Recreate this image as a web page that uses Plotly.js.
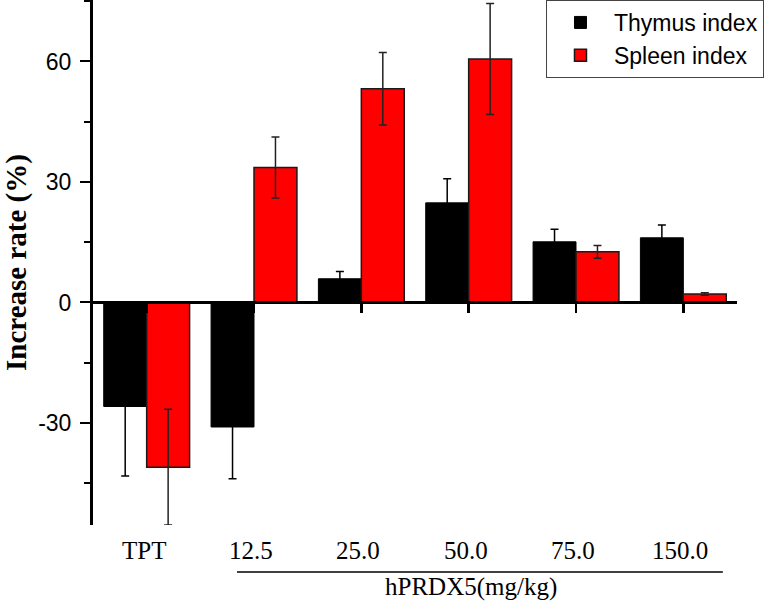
<!DOCTYPE html>
<html>
<head>
<meta charset="utf-8">
<script src="https://cdn.plot.ly/plotly-3.0.1.min.js"></script>
<style>html,body{margin:0;padding:0;background:#fff;}#chart{width:775px;height:604px;}</style>
</head>
<body>
<div id="chart"></div>
<script>
const categories = ["TPT", "12.5", "25.0", "50.0", "75.0", "150.0"];
const thymus = [-25.9, -31.0, 5.9, 24.8, 15.1, 16.1];
const thymusErr = [17.3, 12.9, 1.8, 6.0, 3.1, 3.2];
const spleen = [-41.0, 33.6, 53.2, 60.6, 12.6, 2.1];
const spleenErr = [14.4, 7.6, 9.0, 13.8, 1.6, 0.3];
const seriesNames = ["Thymus index", "Spleen index"];
const yTickVals = [-30, 0, 30, 60];
const yTickText = ["-30", "0", "30", "60"];
const yMinorVals = [-45, -15, 15, 45, 75];
const xTitle = "hPRDX5(mg/kg)";
const yTitle = "Increase rate (%)";

const yRange = [-55.4, 75.3];
const zeroFrac = (0 - yRange[0]) / (yRange[1] - yRange[0]);
const serif = "Liberation Serif, Times New Roman, serif";
const sans = "Liberation Sans, Arial, sans-serif";

const traces = [
  {
    type: "bar", name: seriesNames[0], x: categories, y: thymus,
    marker: {color: "#000000", line: {color: "#000000", width: 1}},
    error_y: {type: "data", array: thymusErr, visible: true, color: "#000000", thickness: 1.5, width: 4}
  },
  {
    type: "bar", name: seriesNames[1], x: categories, y: spleen,
    marker: {color: "#ff0000", line: {color: "#1a1a1a", width: 1.5}},
    error_y: {type: "data", array: spleenErr, visible: true, color: "#222222", thickness: 1.5, width: 4}
  }
];

const catLabels = categories.map((c, i) => ({
  text: c, xref: "x", yref: "paper", x: i, y: -0.0495, xanchor: "center", yanchor: "middle",
  xshift: -3, showarrow: false, font: {family: serif, size: 25, color: "#000"}
}));

const layout = {
  width: 775, height: 604,
  margin: {l: 93, r: 38, t: 0, b: 79, autoexpand: false},
  paper_bgcolor: "#ffffff", plot_bgcolor: "#ffffff",
  barmode: "group", bargap: 0.2, bargroupgap: 0,
  showlegend: true,
  legend: {
    x: 0.7034, y: 1, xanchor: "left", yanchor: "top",
    bgcolor: "#ffffff", bordercolor: "#444444", borderwidth: 1,
    font: {family: sans, size: 23, color: "#000"},
    itemwidth: 57, tracegroupgap: 0
  },
  xaxis: {
    type: "category", range: [-0.5, categories.length - 0.5],
    anchor: "free", position: zeroFrac,
    showticklabels: false, ticks: "outside", ticklen: 9, tickwidth: 2.5, tickcolor: "#000",
    showline: true, linecolor: "#000", linewidth: 3,
    showgrid: false, zeroline: false
  },
  yaxis: {
    range: yRange, tickmode: "array", tickvals: yTickVals, ticktext: yTickText,
    ticks: "outside", ticklen: 10, tickwidth: 2, tickcolor: "#000",
    minor: {tickmode: "array", tickvals: yMinorVals, ticks: "outside", ticklen: 6, tickwidth: 2, tickcolor: "#000"},
    showline: true, linecolor: "#000", linewidth: 3,
    showgrid: false, zeroline: false,
    tickfont: {family: sans, size: 23, color: "#000"},
    ticklabelstandoff: 4,
    title: {text: yTitle, font: {family: serif, size: 29, color: "#000", weight: "bold"}, standoff: 14}
  },
  shapes: [
    {type: "line", xref: "paper", yref: "paper", x0: 0.2236, x1: 0.978, y0: -0.0895, y1: -0.0895,
     line: {color: "#000", width: 1.5}}
  ],
  annotations: catLabels.concat([
    {text: xTitle, xref: "paper", yref: "paper", x: 0.587, y: -0.119, xanchor: "center", yanchor: "middle",
     showarrow: false, borderpad: 0, font: {family: serif, size: 25, color: "#000"}}
  ])
};

Plotly.newPlot("chart", traces, layout, {displayModeBar: false, staticPlot: true});
</script>
</body>
</html>
